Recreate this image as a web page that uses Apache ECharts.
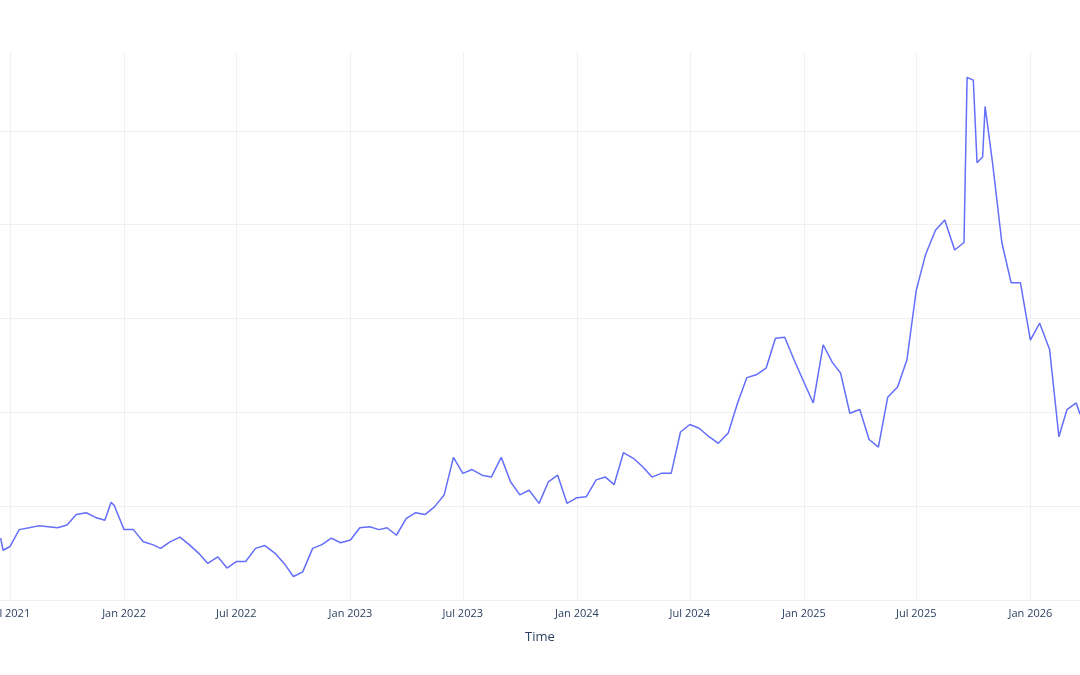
<!DOCTYPE html>
<html>
<head>
<meta charset="utf-8">
<script src="https://cdn.jsdelivr.net/npm/echarts@6/dist/echarts.min.js"></script>
<style>html,body{margin:0;padding:0;background:#fff}#chart{width:1080px;height:675px}</style>
</head>
<body>
<div id="chart"></div>
<script>
// dates and values
const dates = [
  '2021-06-16','2021-06-20','2021-07-01','2021-07-16','2021-08-01','2021-08-16','2021-09-01','2021-09-16','2021-10-01','2021-10-16','2021-11-01','2021-11-16','2021-12-01','2021-12-11','2021-12-16',
  '2022-01-01','2022-01-16','2022-02-01','2022-02-16','2022-03-01','2022-03-16','2022-04-01','2022-04-16','2022-05-01','2022-05-16','2022-06-01','2022-06-16','2022-07-01','2022-07-16','2022-08-01','2022-08-16','2022-09-01','2022-09-16','2022-10-01','2022-10-16','2022-11-01','2022-11-16','2022-12-01','2022-12-16',
  '2023-01-01','2023-01-16','2023-02-01','2023-02-16','2023-03-01','2023-03-16','2023-04-01','2023-04-16','2023-05-01','2023-05-16','2023-06-01','2023-06-16','2023-07-01','2023-07-16','2023-08-01','2023-08-16','2023-09-01','2023-09-16','2023-10-01','2023-10-16','2023-11-01','2023-11-16','2023-12-01','2023-12-16',
  '2024-01-01','2024-01-16','2024-02-01','2024-02-16','2024-03-01','2024-03-16','2024-04-01','2024-04-16','2024-05-01','2024-05-16','2024-06-01','2024-06-16','2024-07-01','2024-07-16','2024-08-01','2024-08-16','2024-09-01','2024-09-16','2024-10-01','2024-10-16','2024-11-01','2024-11-16','2024-12-01','2024-12-16',
  '2025-01-01','2025-01-16','2025-02-01','2025-02-16','2025-03-01','2025-03-16','2025-04-01','2025-04-16','2025-05-01','2025-05-16','2025-06-01','2025-06-16','2025-07-01','2025-07-16','2025-08-01','2025-08-16','2025-09-01','2025-09-16','2025-09-21','2025-10-01','2025-10-07','2025-10-16','2025-10-20','2025-11-01','2025-11-16','2025-12-01','2025-12-16',
  '2026-01-01','2026-01-16','2026-02-01','2026-02-16','2026-03-01','2026-03-16','2026-03-22'
];
const values = [
  6.6,5.3,5.7,7.5,7.7,7.9,7.8,7.7,8.0,9.1,9.3,8.8,8.5,10.4,10.1,
  7.5,7.5,6.2,5.9,5.5,6.2,6.7,5.9,5.0,3.9,4.6,3.4,4.1,4.1,5.5,5.8,5.0,3.9,2.5,3.0,5.5,5.9,6.6,6.1,
  6.4,7.7,7.8,7.5,7.7,6.9,8.7,9.3,9.1,9.9,11.2,15.2,13.5,13.9,13.3,13.1,15.2,12.6,11.2,11.7,10.3,12.6,13.3,10.3,
  10.9,11.0,12.8,13.1,12.3,15.7,15.1,14.2,13.1,13.5,13.5,17.9,18.7,18.3,17.4,16.7,17.8,21.0,23.7,24.0,24.7,27.9,28.0,25.6,
  23.2,21.0,27.2,25.3,24.2,19.9,20.3,17.1,16.3,21.6,22.7,25.6,33.0,36.8,39.4,40.5,37.3,38.1,55.7,55.4,46.6,47.2,52.6,46.6,38.1,33.8,33.8,
  27.7,29.5,26.7,17.4,20.3,21.0,19.8
];
const tickDates = ['2021-07-01','2022-01-01','2022-07-01','2023-01-01','2023-07-01','2024-01-01','2024-07-01','2025-01-01','2025-07-01','2026-01-01'];
const tickLabels = ['Jul 2021','Jan 2022','Jul 2022','Jan 2023','Jul 2023','Jan 2024','Jul 2024','Jan 2025','Jul 2025','Jan 2026'];

const chart = echarts.init(document.getElementById('chart'));
chart.setOption({
  animation: false,
  grid: { left: 0, right: 0, top: 52, bottom: 75 },
  xAxis: {
    type: 'time',
    min: '2021-06-15', max: '2026-03-22',
    axisLine: { show: false }, axisTick: { show: false },
    axisLabel: { show: false }, splitLine: { show: false },
    name: 'Time', nameLocation: 'middle', nameGap: 31,
    nameTextStyle: { color: '#2a3f5f', fontSize: 13, fontFamily: 'Open Sans' }
  },
  yAxis: {
    type: 'value', min: 0, max: 58.4, interval: 10,
    axisLabel: { show: false },
    axisLine: { show: false }, axisTick: { show: false },
    splitLine: { showMaxLine: false, lineStyle: { color: '#eef0f6', width: 1 } }
  },
  series: [{
    type: 'line',
    data: dates.map((d, i) => [d, values[i]]),
    symbol: 'none',
    lineStyle: { color: '#636efa', width: 1.5 },
    markLine: {
      silent: true, symbol: 'none', z: 1,
      lineStyle: { color: '#eef0f6', type: 'solid', width: 1 },
      label: {
        position: 'start', distance: 8, color: '#2a3f5f', fontSize: 11,
        fontFamily: 'Open Sans',
        formatter: p => tickLabels[p.dataIndex]
      },
      data: tickDates.map(d => ({ xAxis: d }))
    },
    z: 3
  }]
});
</script>
</body>
</html>
